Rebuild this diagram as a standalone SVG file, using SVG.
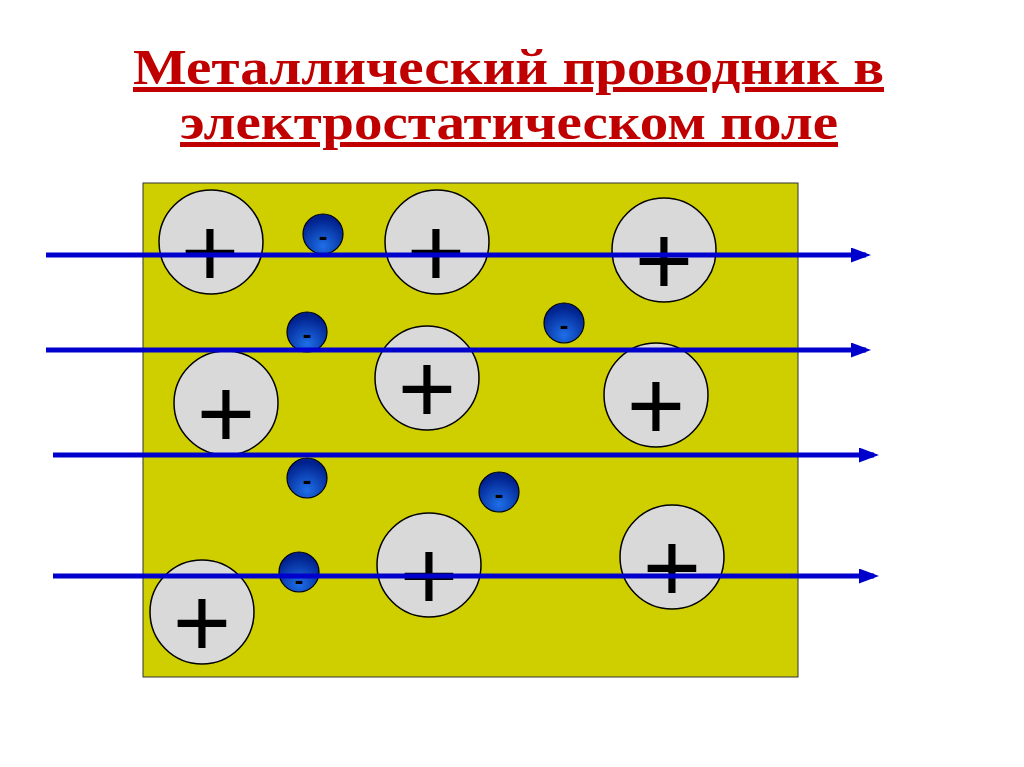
<svg xmlns="http://www.w3.org/2000/svg" width="1024" height="767" viewBox="0 0 1024 767">
<defs>
<style>
.t{font-family:"Liberation Serif",serif;font-weight:bold;font-size:50px;fill:#C00000;text-decoration:underline}
.ion{fill:#D9D9D9;stroke:#000;stroke-width:1.5}
.p{font-family:"Liberation Sans",sans-serif;font-size:100px;text-anchor:middle;fill:#000}
.e{fill:url(#eg);stroke:#000;stroke-width:1.2}
.m{font-family:"Liberation Sans",sans-serif;font-size:26px;font-weight:bold;text-anchor:middle;fill:#000}
.ln{stroke:#0000CC;stroke-width:5;fill:none;marker-end:url(#ah)}
</style>
<radialGradient id="eg" cx="0.5" cy="0.8" r="0.7"><stop offset="0" stop-color="#1E6FE8"/><stop offset="1" stop-color="#00208C"/></radialGradient>
<marker id="ah" markerWidth="4" markerHeight="3" refX="3" refY="1.5" orient="auto" markerUnits="strokeWidth"><path d="M0,0 L4,1.5 L0,3 Z" fill="#0000CC"/></marker>
</defs>
<rect width="1024" height="767" fill="#fff"/>
<text class="t" x="133" y="84" textLength="751" lengthAdjust="spacingAndGlyphs">Металлический проводник в</text>
<text class="t" x="180" y="139" textLength="658" lengthAdjust="spacingAndGlyphs">электростатическом поле</text>
<rect x="143" y="183" width="655" height="494" fill="#CFCF00" stroke="#333" stroke-width="1"/>
<g id="ions">
<g id="ion1"><circle class="ion" cx="211" cy="242" r="52"/><text class="p" x="210" y="287">+</text></g>
<g id="ion2"><circle class="ion" cx="437" cy="242" r="52"/><text class="p" x="436" y="287">+</text></g>
<g id="ion3"><circle class="ion" cx="664" cy="250" r="52"/><text class="p" x="664" y="295">+</text></g>
<g id="ion4"><circle class="ion" cx="226" cy="403" r="52"/><text class="p" x="226" y="448">+</text></g>
<g id="ion5"><circle class="ion" cx="427" cy="378" r="52"/><text class="p" x="427" y="423">+</text></g>
<g id="ion6"><circle class="ion" cx="656" cy="395" r="52"/><text class="p" x="656" y="440">+</text></g>
<g id="ion7"><circle class="ion" cx="202" cy="612" r="52"/><text class="p" x="202" y="657">+</text></g>
<g id="ion8"><circle class="ion" cx="429" cy="565" r="52"/><text class="p" x="429" y="610">+</text></g>
<g id="ion9"><circle class="ion" cx="672" cy="557" r="52"/><text class="p" x="672" y="602">+</text></g>
</g>
<g id="electrons">
<g id="e1"><circle class="e" cx="323" cy="234" r="20"/><text class="m" x="323" y="245">-</text></g>
<g id="e2"><circle class="e" cx="307" cy="332" r="20"/><text class="m" x="307" y="343">-</text></g>
<g id="e3"><circle class="e" cx="564" cy="323" r="20"/><text class="m" x="564" y="334">-</text></g>
<g id="e4"><circle class="e" cx="307" cy="478" r="20"/><text class="m" x="307" y="489">-</text></g>
<g id="e5"><circle class="e" cx="499" cy="492" r="20"/><text class="m" x="499" y="503">-</text></g>
<g id="e6"><circle class="e" cx="299" cy="572" r="20"/><text class="m" x="299" y="589">-</text></g>
</g>
<g id="connectors">
<line class="ln" x1="46" y1="255" x2="866" y2="255"/>
<line class="ln" x1="46" y1="350" x2="866" y2="350"/>
<line class="ln" x1="53" y1="455" x2="874" y2="455"/>
<line class="ln" x1="53" y1="576" x2="874" y2="576"/>
</g>
</svg>
